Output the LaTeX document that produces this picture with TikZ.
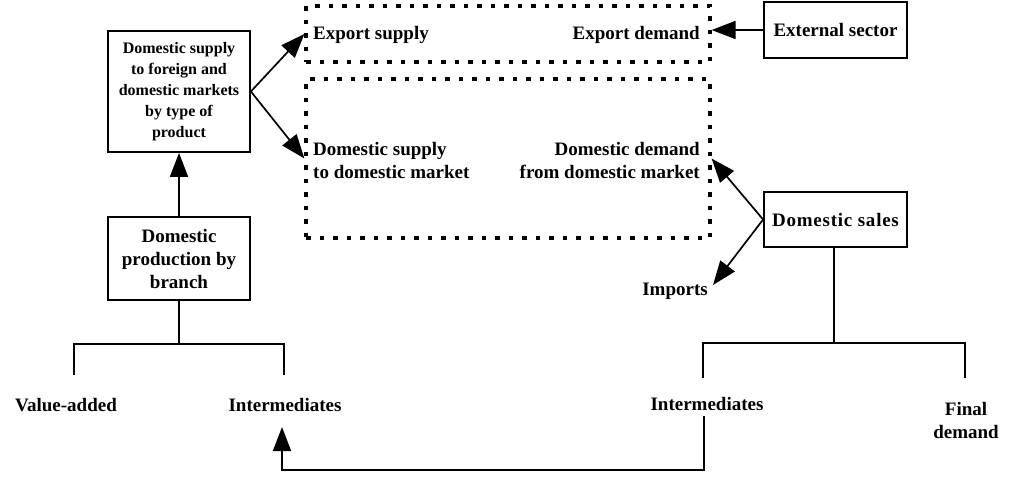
\documentclass[tikz,border=0pt]{standalone}
\usepackage{fontspec}
\setmainfont{Liberation Serif}
\usetikzlibrary{arrows.meta}
\begin{document}
\begin{tikzpicture}[x=1pt,y=-1pt,
  lbl/.style={font=\fontsize{19}{23}\selectfont\bfseries, inner sep=0pt, align=center},
  box/.style={draw, line width=1.8pt, font=\fontsize{19}{23}\selectfont\bfseries, align=center, inner sep=2pt},
  dotbox/.style={draw, line width=3.2pt, dash pattern=on 4.5pt off 9pt, inner sep=0pt},
  con/.style={line width=1.7pt},
  tip/.style={-{Triangle[length=24pt,width=18pt]}},
  arr/.style={con, tip}]
\useasboundingbox (0,0) rectangle (1010,477);
% boxes
\node[box, minimum width=142pt, minimum height=121pt, font=\fontsize{16}{21}\selectfont\bfseries] (b1) at (179,91.5)
  {Domestic supply\\to foreign and\\domestic markets\\by type of\\product};
\node[box, minimum width=142pt, minimum height=83pt] (b2) at (179,258.5)
  {Domestic\\production by\\branch};
\node[box, minimum width=143pt, minimum height=56pt] (ext) at (835.5,30) {External sector};
\node[box, minimum width=143pt, minimum height=55pt] (ds) at (835.5,219.5) {\addfontfeature{LetterSpace=4}Domestic sales};
% dotted boxes
\node[dotbox, minimum width=404pt, minimum height=56pt] (xb) at (508,34) {};
\node[dotbox, minimum width=404pt, minimum height=159pt] (db) at (508,158.5) {};
% labels
\node[lbl, anchor=base west] (expsup) at (313,39) {Export supply};
\node[lbl, anchor=base east] (expdem) at (700,39) {Export demand};
\node[lbl, anchor=base west, align=left] (domsup) at (313,178) {Domestic supply\\to domestic market};
\node[lbl, anchor=base east, align=right] (domdem) at (700,178) {Domestic demand\\from domestic market};
\node[lbl, anchor=base] (imp) at (675,295) {Imports};
\node[lbl, anchor=base] (va) at (66,411) {Value-added};
\node[lbl, anchor=base] (intl) at (285,411) {Intermediates};
\node[lbl, anchor=base] (intr) at (707,410) {Intermediates};
\node[lbl, anchor=base] (fd) at (966,438) {Final\\demand};
% connectors
\draw[arr] (b2.north) -- (b1.south);
\draw[arr] (b1.east) -- (xb.west);
\draw[arr] (b1.east) -- (db.west);
\draw[arr] (ext.west) -- (xb.east |- ext.west);
\draw[arr] (ds.west) -- (db.east);
\coordinate (impt) at (713,285);
\draw[arr] (ds.west) -- (impt);
% left tree
\coordinate (lj) at (179,344);
\draw[con] (b2.south) -- (lj);
\draw[con] (74,375) -- (74,344) -- (284,344) -- (284,375);
% right tree
\coordinate (rj) at (834,343);
\draw[con] (ds.south -| rj) -- (rj);
\draw[con] (703,378) -- (703,343) -- (965,343) -- (965,378);
% feedback
\coordinate (fbs) at (704,416);
\coordinate (fbe) at (282,427);
\draw[con, tip] (fbs) -- (704,470) -- (282,470) -- (fbe);
\end{tikzpicture}
\end{document}
